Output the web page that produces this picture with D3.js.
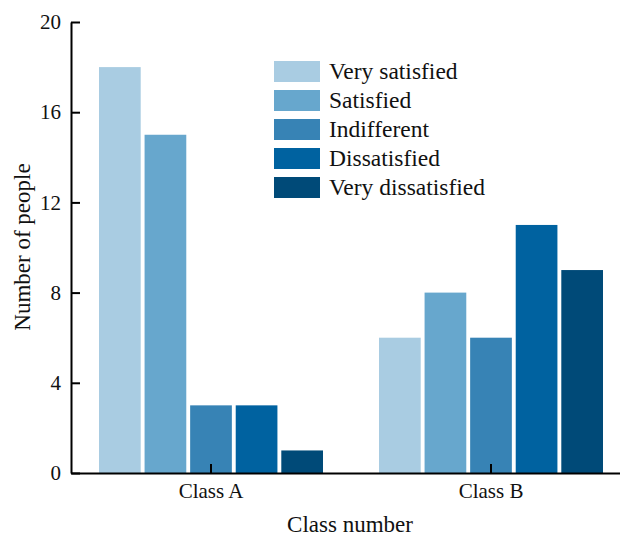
<!DOCTYPE html>
<html>
<head>
<meta charset="utf-8">
<script src="https://cdn.jsdelivr.net/npm/d3@7"></script>
<style>
body { margin: 0; background: #fff; }
svg { display: block; font-family: "Liberation Serif", "Times New Roman", serif; }
</style>
</head>
<body>
<svg id="chart" width="620" height="536"></svg>
<script>
const classes = ["Class A", "Class B"];
const levels = ["Very satisfied", "Satisfied", "Indifferent", "Dissatisfied", "Very dissatisfied"];
const classA = [18, 15, 3, 3, 1];
const classB = [6, 8, 6, 11, 9];
const colors = ["#a9cce2", "#67a7cd", "#3783b5", "#0062a0", "#004a78"];
const yTicks = [0, 4, 8, 12, 16, 20];

const values = [classA, classB];
const svg = d3.select("#chart");
const mLeft = 71, mRight = 631, mTop = 22, mBottom = 473;
const serif = "Liberation Serif";

const x0 = d3.scaleBand().domain(classes).range([mLeft, mRight]).padding(0);
const groupW = x0.bandwidth() * 0.8;
const x1 = d3.scaleBand().domain(levels).range([0, groupW]).paddingInner(0.085).paddingOuter(0);
const y = d3.scaleLinear().domain([0, 20]).range([mBottom, mTop]);
const color = d3.scaleOrdinal().domain(levels).range(colors);

const groups = svg.selectAll("g.grp").data(classes).join("g")
  .attr("class", "grp")
  .attr("transform", d => `translate(${x0(d) + (x0.bandwidth() - groupW) / 2},0)`);

groups.selectAll("rect").data((d, i) => levels.map((l, j) => ({ level: l, v: values[i][j] })))
  .join("rect")
  .attr("x", d => x1(d.level))
  .attr("width", x1.bandwidth())
  .attr("y", d => y(d.v))
  .attr("height", d => y(0) - y(d.v))
  .attr("fill", d => color(d.level));

// Y axis
const yAxis = svg.append("g").attr("transform", `translate(${mLeft},0)`)
  .call(d3.axisLeft(y).tickValues(yTicks).tickSizeInner(-9).tickSizeOuter(0).tickPadding(10));
yAxis.attr("font-family", serif);
yAxis.select(".domain").attr("stroke", "#000").attr("stroke-width", 2);
yAxis.selectAll(".tick line").attr("stroke", "#000").attr("stroke-width", 2);
yAxis.selectAll(".tick text").attr("font-size", 21).attr("fill", "#111")
  .attr("font-family", serif).attr("x", -10).attr("dy", "0.32em");

// X axis
const xAxis = svg.append("g").attr("transform", `translate(0,${mBottom})`)
  .call(d3.axisBottom(x0).tickSizeInner(-9).tickSizeOuter(0).tickPadding(0));
xAxis.attr("font-family", serif);
xAxis.select(".domain").attr("stroke", "#000").attr("stroke-width", 2);
xAxis.selectAll(".tick line").attr("stroke", "#000").attr("stroke-width", 2);
xAxis.selectAll(".tick text").attr("font-size", 21).attr("fill", "#111")
  .attr("font-family", serif).attr("y", 25).attr("dy", 0);

// Axis titles
svg.append("text").attr("x", 350).attr("y", 532).attr("text-anchor", "middle")
  .attr("font-family", serif).attr("font-size", 23).attr("fill", "#111").text("Class number");
svg.append("text").attr("transform", "translate(30,247) rotate(-90)").attr("text-anchor", "middle")
  .attr("font-family", serif).attr("font-size", 23).attr("fill", "#111").text("Number of people");

// Legend
const legend = svg.append("g").attr("transform", "translate(274,61)");
const li = legend.selectAll("g").data(levels).join("g")
  .attr("transform", (d, i) => `translate(0,${i * 29})`);
li.append("rect").attr("width", 46).attr("height", 21).attr("fill", d => color(d));
li.append("text").attr("x", 55).attr("y", 18).attr("font-family", serif).attr("font-size", 23.5)
  .attr("fill", "#111").text(d => d);
</script>
</body>
</html>
